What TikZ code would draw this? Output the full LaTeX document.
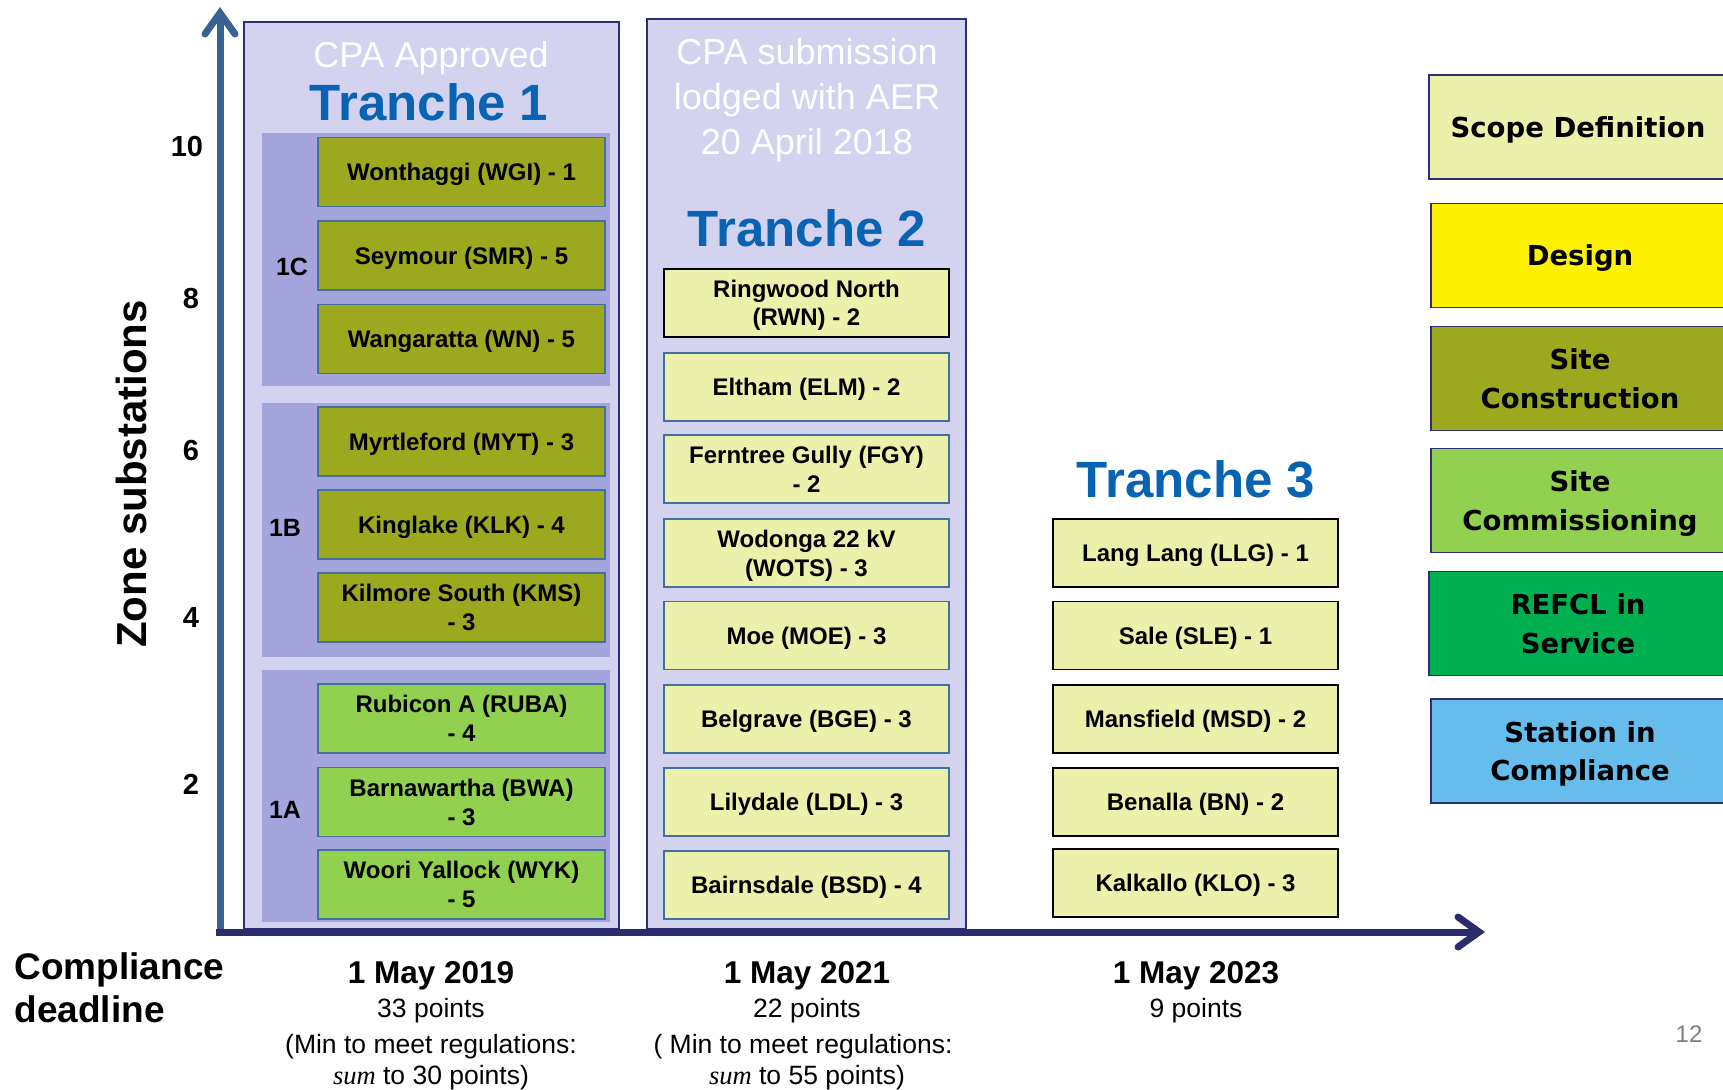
\documentclass[tikz,border=0pt]{standalone}
\usepackage{fontspec}
\setmainfont{Liberation Sans}
\newfontfamily\legfont{DejaVu Sans}
\newfontfamily\serfont{Liberation Serif}
\usetikzlibrary{arrows.meta}
\definecolor{lav}{RGB}{211,211,240}
\definecolor{grp}{RGB}{165,165,221}
\definecolor{navy}{RGB}{46,46,120}
\definecolor{tblue}{RGB}{8,99,178}
\definecolor{olive}{RGB}{156,168,30}
\definecolor{lgreen}{RGB}{146,208,80}
\definecolor{lyel}{RGB}{235,241,170}
\definecolor{dgreen}{RGB}{0,176,80}
\definecolor{sky}{RGB}{102,189,236}
\definecolor{bblue}{RGB}{65,113,156}
\definecolor{yaxis}{RGB}{56,98,145}
\definecolor{xaxis}{RGB}{43,43,110}
\definecolor{pgray}{RGB}{127,127,127}
\begin{document}
\begin{tikzpicture}[x=1pt,y=-1pt,
  tranche/.style={draw=navy, line width=1.5pt, fill=lav, minimum width=#1, inner sep=0pt},
  grpbox/.style={fill=grp, draw=none, minimum width=348pt, inner sep=0pt},
  sub/.style={draw=bblue, line width=1.8pt, align=center, inner sep=0pt, text depth=0pt,
    font=\bfseries\fontsize{24}{28.6}\selectfont, minimum width=287pt, minimum height=69pt},
  subb/.style={sub, draw=black, minimum width=285pt, minimum height=68pt, fill=lyel},
  subc/.style={sub, minimum width=285pt, minimum height=68pt, fill=lyel},
  leg/.style={draw=navy, line width=1.8pt, align=center, text depth=0pt,
    font=\legfont\bfseries\fontsize{27.5}{38.5}\selectfont,
    minimum width=298pt, minimum height=104pt, inner sep=0pt},
  cpa/.style={text=white, align=center, font=\fontsize{36}{45}\selectfont},
  ttl/.style={text=tblue, font=\bfseries\fontsize{51}{60}\selectfont},
  glabel/.style={font=\bfseries\fontsize{25}{28}\selectfont},
  ylab/.style={font=\bfseries\fontsize{29}{34}\selectfont},
  date/.style={font=\bfseries\fontsize{31.5}{36}\selectfont},
  pts/.style={font=\fontsize{26.5}{30}\selectfont},
]
\useasboundingbox (0,0) rectangle (1723,1089);

% tranche containers
\node[tranche=375pt, minimum height=907pt] (t1) at (431.5,475.5) {};
\node[tranche=319pt, minimum height=910pt] (t2) at (806.5,474) {};

% group backgrounds
\node[grpbox, minimum height=253pt] (g1c) at (436,259.5) {};
\node[grpbox, minimum height=254pt] (g1b) at (436,530) {};
\node[grpbox, minimum height=252pt] (g1a) at (436,796) {};

% titles
\node[cpa] (cpa1) at (431,58.5) {CPA Approved};
\node[ttl] (tr1) at (429,102) {Tranche 1};
\node[cpa] (cpa2) at (807,100.5) {CPA submission\\lodged with AER\\20 April 2018};
\node[ttl] (tr2) at (807,228) {Tranche 2};
\node[ttl] (tr3) at (1196,479) {Tranche 3};

% group labels
\node[glabel] (l1c) at (292,267) {1C};
\node[glabel] (l1b) at (285,528) {1B};
\node[glabel] (l1a) at (285,810) {1A};

% tranche 1 boxes
\node[sub, fill=olive] (wgi) at (461.5,172) {Wonthaggi (WGI) - 1};
\node[sub, fill=olive] (smr) at (461.5,255.5) {Seymour (SMR) - 5};
\node[sub, fill=olive] (wn)  at (461.5,339) {Wangaratta (WN) - 5};
\node[sub, fill=olive] (myt) at (461.5,441.5) {Myrtleford (MYT) - 3};
\node[sub, fill=olive] (klk) at (461.5,524.5) {Kinglake (KLK) - 4};
\node[sub, fill=olive] (kms) at (461.5,607.5) {Kilmore South (KMS)\\- 3};
\node[sub, fill=lgreen] (ruba) at (461.5,718.5) {Rubicon A (RUBA)\\- 4};
\node[sub, fill=lgreen] (bwa) at (461.5,802) {Barnawartha (BWA)\\- 3};
\node[sub, fill=lgreen] (wyk) at (461.5,884.5) {Woori Yallock (WYK)\\- 5};

% tranche 2 boxes
\node[subb] (rwn) at (806.5,303) {Ringwood North\\(RWN) - 2};
\node[subc] (elm) at (806.5,387) {Eltham (ELM) - 2};
\node[subc] (fgy) at (806.5,469) {Ferntree Gully (FGY)\\- 2};
\node[subc] (wots) at (806.5,553) {Wodonga 22 kV\\(WOTS) - 3};
\node[subc] (moe) at (806.5,635.5) {Moe (MOE) - 3};
\node[subc] (bge) at (806.5,719) {Belgrave (BGE) - 3};
\node[subc] (ldl) at (806.5,802) {Lilydale (LDL) - 3};
\node[subc] (bsd) at (806.5,885) {Bairnsdale (BSD) - 4};

% tranche 3 boxes
\node[subb] (llg) at (1195.5,553) {Lang Lang (LLG) - 1};
\node[subb] (sle) at (1195.5,635.5) {Sale (SLE) - 1};
\node[subb] (msd) at (1195.5,719) {Mansfield (MSD) - 2};
\node[subb] (bn)  at (1195.5,802) {Benalla (BN) - 2};
\node[subb] (klo) at (1195.5,883) {Kalkallo (KLO) - 3};

% legend
\node[leg, fill=lyel]   (lscope) at (1578,127) {Scope Definition};
\node[leg, fill=yellow] (ldes)   at (1580,255.5) {Design};
\node[leg, fill=olive]  (lcon)   at (1580,378.5) {Site\\Construction};
\node[leg, fill=lgreen] (lcom)   at (1580,500.5) {Site\\Commissioning};
\node[leg, fill=dgreen] (lref)   at (1578,623.5) {REFCL in\\Service};
\node[leg, fill=sky]    (lsta)   at (1580,751) {Station in\\Compliance};

% axes
\coordinate (ybot) at (220,934);
\coordinate (ytop) at (220,7);
\coordinate (xbeg) at (216,932);
\coordinate (xend) at (1485,932);
\draw[yaxis, line width=7pt, -{Straight Barb[length=21pt 0,width=30pt 0,line cap=round]}] (ybot) -- (ytop);
\draw[xaxis, line width=7pt, -{Straight Barb[length=21pt 0,width=30pt 0,line cap=round]}] (xbeg) -- (xend);

% y labels
\node[ylab] (y10) at (187,147) {10};
\node[ylab] (y8) at (191,299) {8};
\node[ylab] (y6) at (191,451) {6};
\node[ylab] (y4) at (191,618) {4};
\node[ylab] (y2) at (191,784) {2};
\node[font=\bfseries\fontsize{42}{48}\selectfont, rotate=90] (zs) at (131,474) {Zone substations};

% bottom texts
\node[font=\bfseries\fontsize{37}{43}\selectfont, align=left, anchor=west] (cd) at (11,988) {Compliance\\deadline};
\node[date] (d1) at (431,976) {1 May 2019};
\node[pts] (p1) at (431,1010.5) {33 points};
\node[pts] (m1) at (431,1046.5) {(Min to meet regulations:};
\node[pts] (s1) at (431,1077.5) {{\serfont\itshape sum} to 30 points)};
\node[date] (d2) at (807,976) {1 May 2021};
\node[pts] (p2) at (807,1010.5) {22 points};
\node[pts] (m2) at (803,1046.5) {( Min to meet regulations:};
\node[pts] (s2) at (807,1077.5) {{\serfont\itshape sum} to 55 points)};
\node[date] (d3) at (1196,976) {1 May 2023};
\node[pts] (p3) at (1196,1010.5) {9 points};
\node[text=pgray, font=\fontsize{24}{28}\selectfont] (pg) at (1689,1034) {12};
\end{tikzpicture}
\end{document}
